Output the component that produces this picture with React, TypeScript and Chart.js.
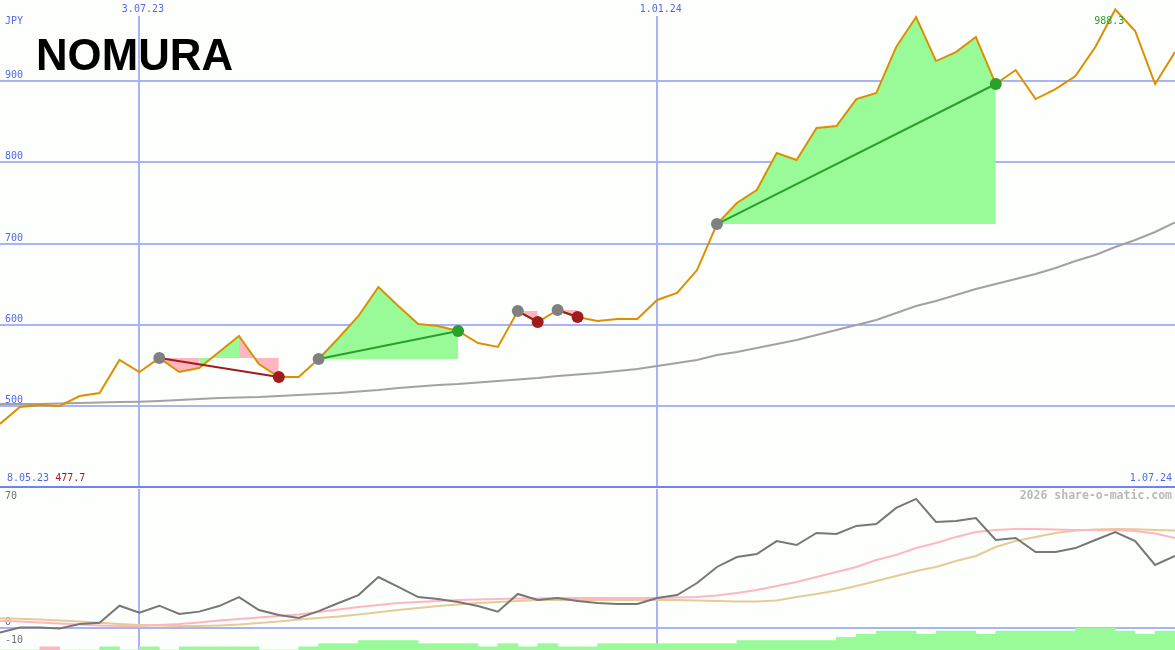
import React, { useEffect, useRef } from 'react';
import { Chart, registerables } from 'chart.js';

Chart.register(...registerables);

// ---------------- data ----------------
const xTickIdx = [7, 33];
const xTickLabels = ['3.07.23', '1.01.24'];
const firstDate = '8.05.23';
const lastDate = '1.07.24';
const unitLabel = 'JPY';
const logoText = 'NOMURA';
const watermark = '2026 share-o-matic.com';
const priceTicks = [400, 500, 600, 700, 800, 900];
const oscTicks = [-10, 0, 70];

// weekly closing price (JPY)
const price = [
  477.7, 498.6, 501.0, 499.8, 512.1, 515.8, 556.5, 541.7, 558.9, 541.7,
  546.6, 566.3, 586.0, 551.5, 535.5, 535.5, 557.7, 583.6, 610.7, 646.4,
  623.0, 600.8, 598.3, 592.2, 577.4, 572.5, 616.8, 603.3, 618.1, 609.4,
  604.5, 607.0, 607.0, 630.4, 639.0, 667.3, 724.0, 749.9, 765.9, 811.5,
  802.9, 842.3, 844.8, 878.0, 885.4, 942.1, 979.0, 924.8, 935.9, 954.4,
  896.5, 913.7, 878.0, 890.3, 906.3, 942.1, 988.3, 961.8, 896.5, 935.9,
];

// long moving average
const priceMA = [
  502.3, 502.3, 502.3, 502.9, 503.5, 504.1, 504.7, 505.1, 506.0, 507.2,
  508.4, 509.6, 510.3, 510.9, 512.1, 513.3, 514.6, 515.8, 517.7, 519.5,
  522.0, 523.8, 525.7, 526.9, 528.7, 530.6, 532.4, 534.3, 536.8, 538.6,
  540.4, 542.9, 545.4, 549.1, 552.8, 556.5, 562.6, 566.3, 571.2, 576.2,
  581.1, 587.3, 593.4, 599.6, 605.7, 614.4, 623.0, 629.2, 636.5, 643.9,
  650.1, 656.3, 662.4, 669.8, 678.4, 685.8, 695.7, 704.3, 714.2, 726.0,
];

// lower panel oscillator (dark gray)
const osc = [
  -2.5, 0.3, 0.3, -0.3, 2.2, 2.9, 12.4, 8.5, 12.4, 7.8,
  9.1, 12.2, 17.2, 10.0, 7.2, 5.6, 9.4, 13.9, 18.3, 28.3,
  22.8, 17.2, 16.1, 14.4, 12.2, 9.1, 18.9, 15.6, 16.7, 15.0,
  13.9, 13.3, 13.3, 16.7, 18.3, 25.0, 33.9, 39.4, 41.1, 48.3,
  46.1, 52.8, 52.2, 56.7, 57.8, 66.7, 71.7, 58.9, 59.4, 61.1,
  48.9, 50.0, 42.2, 42.2, 44.4, 48.9, 53.3, 48.3, 35.0, 40.0,
];

// fast average of oscillator (pink)
const oscFast = [
  4.1, 3.6, 3.1, 2.5, 1.9, 1.4, 1.1, 1.1, 1.7, 2.2,
  3.1, 4.2, 5.0, 5.8, 6.7, 7.5, 8.9, 10.3, 11.7, 12.8,
  13.9, 14.4, 15.0, 15.6, 15.8, 16.1, 16.4, 16.4, 16.7, 16.7,
  16.7, 16.7, 16.7, 16.7, 16.9, 17.2, 18.1, 19.4, 21.1, 23.3,
  25.6, 28.3, 31.1, 33.9, 37.8, 40.6, 44.4, 47.2, 50.6, 53.3,
  54.4, 55.0, 55.0, 54.7, 54.4, 54.4, 54.4, 53.9, 52.5, 50.0,
];

// slow average of oscillator (tan)
const oscSlow = [
  5.4, 5.1, 4.8, 4.2, 3.6, 2.9, 2.2, 1.7, 1.4, 1.1,
  1.1, 1.4, 1.9, 2.8, 3.6, 4.8, 5.6, 6.4, 7.5, 8.7,
  10.0, 11.1, 12.2, 13.1, 13.9, 14.4, 15.0, 15.6, 15.6, 15.6,
  15.6, 15.6, 15.6, 15.6, 15.6, 15.3, 15.0, 14.7, 14.7, 15.3,
  17.2, 18.9, 20.8, 23.3, 26.1, 28.9, 31.7, 33.9, 37.2, 40.0,
  45.0, 48.3, 50.6, 52.8, 54.2, 54.7, 55.0, 54.8, 54.4, 54.1,
];

// trend strength histogram (one bar per week interval, negative = pink)
const trendBars = [
  0, 0, -1, 0, 0, 1, 0, 1, 0, 1,
  1, 1, 1, 0, 0, 1, 2, 2, 3, 3,
  3, 2, 2, 2, 1, 2, 1, 2, 1, 1,
  2, 2, 2, 2, 2, 2, 2, 3, 3, 3,
  3, 3, 4, 5, 6, 6, 5, 6, 6, 5,
  6, 6, 6, 6, 7, 7, 6, 5, 6,
];

// trades (week indices)
const tradeEntry = [8, 16, 26, 28, 36];
const tradeExit = [14, 23, 27, 29, 50];
const tradeWin = [false, true, false, false, true];
const tradeSegTone: (string[] | null)[] = [
  ['loss', 'loss', 'gain', 'gain', 'loss', 'loss'],
  null,
  null,
  null,
  null,
];

// ---------------- styles ----------------
const MONO = '"DejaVu Sans Mono", monospace';
const BG = '#fcfffc';
const BLUE_TEXT = '#5566ee';
const GRID = '#a9b3f5';
const BORDER = '#7282ef';
const ORANGE = '#dc9000';
const MA_GRAY = '#a2a2a2';
const GAIN_FILL = '#98fb98';
const LOSS_FILL = '#ffb6c1';
const WIN_LINE = '#2a9f2a';
const LOSS_LINE = '#a01c1c';
const ENTRY_DOT = '#808080';
const OSC_GRAY = '#777777';
const TAN = '#e4cb98';
const LOW_TEXT = '#707070';

const W = 1175;
const H_MAIN = 489;
const H_LOW = 161;

const pts = (arr: number[]) => arr.map((v, i) => ({ x: i, y: v }));

const zeroFitY = (s: any) => {
  s.width = 0;
  s.paddingTop = 0;
  s.paddingBottom = 0;
};
const fitX = (h: number) => (s: any) => {
  s.height = h;
  s.paddingLeft = 0;
  s.paddingRight = 0;
};

const mainTextPlugin = {
  id: 'mainText',
  afterDraw(chart: any) {
    const { ctx, chartArea } = chart;
    const x = chart.scales.x;
    const y = chart.scales.y;
    ctx.save();
    ctx.textBaseline = 'middle';
    ctx.font = `10px ${MONO}`;
    ctx.textAlign = 'left';
    ctx.fillStyle = BLUE_TEXT;
    ctx.fillText(unitLabel, 5, 21.5);
    const by = chartArea.bottom - 8.5;
    ctx.fillText(firstDate, 7, by);
    const w = ctx.measureText(firstDate + ' ').width;
    ctx.fillStyle = LOSS_LINE;
    ctx.fillText(price[0].toFixed(1), 7 + w, by);
    ctx.textAlign = 'right';
    ctx.fillStyle = BLUE_TEXT;
    ctx.fillText(lastDate, chart.width - 3, by);
    // peak label
    let pi = 0;
    price.forEach((v, i) => { if (v > price[pi]) pi = i; });
    ctx.fillStyle = WIN_LINE;
    ctx.fillText(price[pi].toFixed(1), x.getPixelForValue(pi) + 9, y.getPixelForValue(price[pi]) + 11.5);
    // logo
    ctx.textAlign = 'left';
    ctx.textBaseline = 'alphabetic';
    ctx.fillStyle = '#000000';
    ctx.font = `bold 45px "Liberation Sans", Arial, sans-serif`;
    ctx.fillText(logoText, 36, 70, 197);
    ctx.restore();
  },
};

const lowTextPlugin = {
  id: 'lowText',
  afterDraw(chart: any) {
    const { ctx } = chart;
    ctx.save();
    ctx.textBaseline = 'middle';
    ctx.textAlign = 'right';
    ctx.font = `bold 11.5px ${MONO}`;
    ctx.fillStyle = '#b9b9b9';
    ctx.fillText(watermark, chart.width - 3, 7);
    ctx.restore();
  },
};

function mainConfig(): any {
  const pricePts = pts(price);
  const fillSets = tradeEntry.map((e, t) => {
    const tone = tradeSegTone[t];
    return {
      type: 'line',
      data: pricePts.slice(e, tradeExit[t] + 1).map((p) => ({ ...p })),
      borderColor: 'rgba(0,0,0,0)',
      borderWidth: 0,
      pointRadius: 0,
      backgroundColor: tradeWin[t] ? GAIN_FILL : LOSS_FILL,
      fill: { value: price[e] },
      segment: tone
        ? { backgroundColor: (c: any) => (tone[c.p0DataIndex] === 'gain' ? GAIN_FILL : LOSS_FILL) }
        : undefined,
      order: 10,
    };
  });
  const tradeLineSets = tradeEntry.map((e, t) => ({
    type: 'line',
    data: [
      { x: e, y: price[e] },
      { x: tradeExit[t], y: price[tradeExit[t]] },
    ],
    borderColor: tradeWin[t] ? WIN_LINE : LOSS_LINE,
    borderWidth: 2,
    pointRadius: 0,
    fill: false,
    order: 2,
  }));
  const dotData = [
    ...tradeEntry.map((e) => ({ x: e, y: price[e] })),
    ...tradeExit.map((e) => ({ x: e, y: price[e] })),
  ];
  const dotColors = [
    ...tradeEntry.map(() => ENTRY_DOT),
    ...tradeExit.map((_, t) => (tradeWin[t] ? WIN_LINE : LOSS_LINE)),
  ];
  return {
    type: 'line',
    data: {
      datasets: [
        ...fillSets,
        {
          data: pts(priceMA),
          borderColor: MA_GRAY,
          borderWidth: 2,
          pointRadius: 0,
          order: 6,
        },
        {
          data: pricePts,
          borderColor: ORANGE,
          borderWidth: 2,
          pointRadius: 0,
          clip: false,
          order: 4,
        },
        ...tradeLineSets,
        {
          data: dotData,
          showLine: false,
          pointRadius: 6,
          pointBorderWidth: 0,
          pointBackgroundColor: dotColors,
          pointBorderColor: dotColors,
          order: 1,
        },
      ],
    },
    options: {
      animation: false,
      responsive: false,
      devicePixelRatio: 1,
      events: [],
      layout: { autoPadding: false, padding: { left: 0, right: 0, top: 0, bottom: 2 } },
      plugins: { legend: { display: false }, tooltip: { enabled: false } },
      elements: { line: { tension: 0 } },
      scales: {
        x: {
          type: 'linear',
          position: 'top',
          min: 0,
          max: price.length - 1,
          offset: false,
          afterBuildTicks: (s: any) => {
            s.ticks = xTickIdx.map((v) => ({ value: v }));
          },
          afterFit: fitX(16),
          ticks: {
            autoSkip: false,
            maxRotation: 0,
            padding: 1,
            labelOffset: 3.5,
            color: BLUE_TEXT,
            font: { family: MONO, size: 10 },
            callback: (v: number) => xTickLabels[xTickIdx.indexOf(v)] ?? '',
          },
          grid: { color: GRID, lineWidth: 2, drawTicks: false, offset: false },
          border: { display: false },
        },
        y: {
          type: 'linear',
          position: 'left',
          min: 400,
          max: 980.3,
          afterBuildTicks: (s: any) => {
            s.ticks = priceTicks.map((v) => ({ value: v }));
          },
          afterFit: zeroFitY,
          ticks: {
            mirror: true,
            padding: 5,
            labelOffset: -5.5,
            color: BLUE_TEXT,
            font: { family: MONO, size: 10 },
            callback: (v: number) => (v === priceTicks[0] ? '' : String(v)),
          },
          grid: {
            color: (c: any) => (c.tick && c.tick.value === priceTicks[0] ? BORDER : GRID),
            lineWidth: 2,
            drawTicks: false,
          },
          border: { display: false },
        },
      },
    },
    plugins: [mainTextPlugin],
  };
}

function lowConfig(): any {
  return {
    type: 'line',
    data: {
      datasets: [
        {
          type: 'bar',
          data: trendBars.map((v, i) => ({ x: i + 0.5, y: Math.abs(v) })),
          backgroundColor: trendBars.map((v) => (v < 0 ? LOSS_FILL : GAIN_FILL)),
          borderWidth: 0,
          barPercentage: 1,
          categoryPercentage: 1,
          yAxisID: 'yb',
          order: 10,
        },
        { data: pts(oscSlow), borderColor: TAN, borderWidth: 2, pointRadius: 0, order: 5 },
        { data: pts(oscFast), borderColor: LOSS_FILL, borderWidth: 2, pointRadius: 0, order: 4 },
        { data: pts(osc), borderColor: OSC_GRAY, borderWidth: 2, pointRadius: 0, order: 3 },
      ],
    },
    options: {
      animation: false,
      responsive: false,
      devicePixelRatio: 1,
      events: [],
      layout: { autoPadding: false, padding: 0 },
      plugins: { legend: { display: false }, tooltip: { enabled: false } },
      elements: { line: { tension: 0 } },
      scales: {
        x: {
          type: 'linear',
          position: 'bottom',
          min: 0,
          max: price.length - 1,
          offset: false,
          afterBuildTicks: (s: any) => {
            s.ticks = xTickIdx.map((v) => ({ value: v }));
          },
          afterFit: fitX(0),
          ticks: { display: false },
          grid: { color: GRID, lineWidth: 2, drawTicks: false, offset: false },
          border: { display: false },
        },
        y: {
          type: 'linear',
          position: 'left',
          min: -12.2,
          max: 77.2,
          afterBuildTicks: (s: any) => {
            s.ticks = oscTicks.map((v) => ({ value: v }));
          },
          afterFit: zeroFitY,
          ticks: {
            mirror: true,
            padding: 5,
            labelOffset: -5.5,
            color: LOW_TEXT,
            font: { family: MONO, size: 10 },
            callback: (v: number) => String(v),
          },
          grid: {
            color: (c: any) => (c.tick && c.tick.value === 0 ? GRID : 'rgba(0,0,0,0)'),
            lineWidth: 2,
            drawTicks: false,
          },
          border: { display: false },
        },
        yb: {
          type: 'linear',
          display: false,
          min: 0,
          max: 51.1,
        },
      },
    },
    plugins: [lowTextPlugin],
  };
}

export default function App() {
  const mainRef = useRef<HTMLCanvasElement>(null);
  const lowRef = useRef<HTMLCanvasElement>(null);
  useEffect(() => {
    const c1 = new Chart(mainRef.current as HTMLCanvasElement, mainConfig());
    const c2 = new Chart(lowRef.current as HTMLCanvasElement, lowConfig());
    return () => {
      c1.destroy();
      c2.destroy();
    };
  }, []);
  return (
    <div
      style={{
        position: 'absolute',
        left: 0,
        top: 0,
        width: W,
        height: H_MAIN + H_LOW,
        background: BG,
        overflow: 'hidden',
      }}
    >
      <canvas ref={mainRef} width={W} height={H_MAIN} style={{ display: 'block', width: W, height: H_MAIN }} />
      <canvas ref={lowRef} width={W} height={H_LOW} style={{ display: 'block', width: W, height: H_LOW }} />
    </div>
  );
}
